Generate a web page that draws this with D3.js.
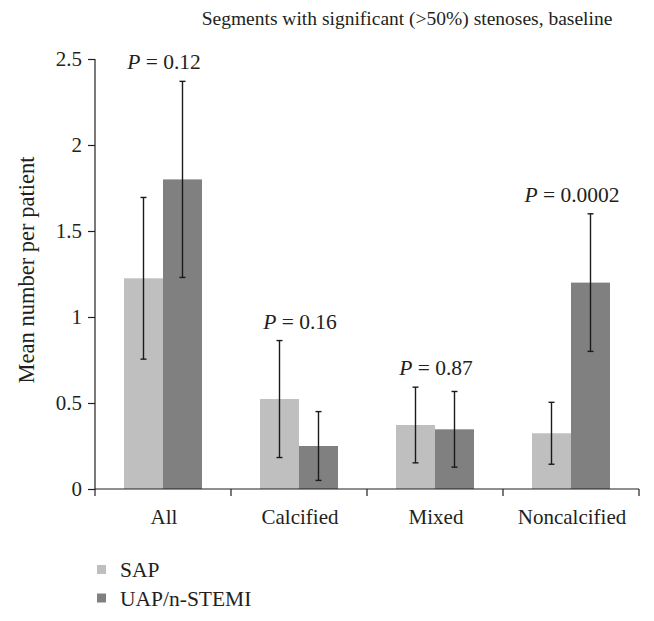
<!DOCTYPE html>
<html><head><meta charset="utf-8">
<script src="https://cdn.jsdelivr.net/npm/d3@7"></script>
<style>body{margin:0;background:#fff}svg{display:block}text{font-family:"Liberation Serif","DejaVu Serif",serif;fill:#231f20}</style>
</head><body>
<script>
const categories = ["All", "Calcified", "Mixed", "Noncalcified"];
const seriesNames = ["SAP", "UAP/n-STEMI"];
const sapMean = [1.225, 0.523, 0.372, 0.324];
const sapErr  = [0.47, 0.34, 0.22, 0.18];
const uapMean = [1.80, 0.25, 0.347, 1.20];
const uapErr  = [0.57, 0.20, 0.22, 0.40];
const pLabels = ["0.12", "0.16", "0.87", "0.0002"];
const yTicks = [0, 0.5, 1, 1.5, 2, 2.5];
const yTickLabels = ["0", "0.5", "1", "1.5", "2", "2.5"];
const title = "Segments with significant (>50%) stenoses, baseline";
const yTitle = "Mean number per patient";

const W = 654, H = 621;
const m = {left: 95, right: 15, top: 59, bottom: 132};
const colors = ["#bfbfbf", "#808080"];

const svg = d3.select("body").append("svg").attr("width", W).attr("height", H);

const x = d3.scaleBand().domain(categories).range([m.left, 639]).paddingInner(0).paddingOuter(0);
const x1 = d3.scaleBand().domain(seriesNames).range([0, 78]);
const y = d3.scaleLinear().domain([0, 2.5]).range([489, 59]);

const data = categories.map((c, i) => ({
  cat: c,
  vals: [
    {s: seriesNames[0], v: sapMean[i], e: sapErr[i]},
    {s: seriesNames[1], v: uapMean[i], e: uapErr[i]}
  ],
  p: pLabels[i]
}));

const groupOff = (x.bandwidth() - 78) / 2;

const g = svg.append("g");
const grp = g.selectAll("g.grp").data(data).join("g")
  .attr("transform", d => `translate(${x(d.cat) + groupOff},0)`);
grp.selectAll("rect").data(d => d.vals).join("rect")
  .attr("x", d => x1(d.s)).attr("width", x1.bandwidth())
  .attr("y", d => y(d.v)).attr("height", d => y(0) - y(d.v))
  .attr("fill", (d, i) => colors[i]);

grp.selectAll("g.err").data(d => d.vals).join("g").each(function(d) {
  const cx = x1(d.s) + x1.bandwidth() / 2;
  const s = d3.select(this);
  s.append("line").attr("x1", cx).attr("x2", cx).attr("y1", y(d.v + d.e)).attr("y2", y(d.v - d.e))
    .attr("stroke", "#1a1a1a").attr("stroke-width", 1.4);
  [d.v + d.e, d.v - d.e].forEach(v => {
    s.append("line").attr("x1", cx - 3).attr("x2", cx + 3).attr("y1", y(v)).attr("y2", y(v))
      .attr("stroke", "#1a1a1a").attr("stroke-width", 1.4);
  });
});

grp.append("text")
  .attr("x", 78 / 2 + 1)
  .attr("y", d => y(d3.max(d.vals, v => v.v + v.e)) - 12)
  .attr("text-anchor", "middle").attr("font-size", 21.5)
  .each(function(d) {
    const t = d3.select(this);
    t.append("tspan").attr("font-style", "italic").text("P");
    t.append("tspan").text(" = " + d.p);
  });

const yAxis = d3.axisLeft(y).tickValues(yTicks).tickFormat((d, i) => yTickLabels[i]).tickSize(7).tickPadding(6);
const ya = svg.append("g").attr("transform", `translate(${m.left},0)`).call(yAxis);
ya.select(".domain").attr("stroke", "#231f20").attr("stroke-width", 1.2).attr("d", `M0,${y(2.5)}V${y(0)}`);
ya.selectAll(".tick line").attr("stroke", "#231f20").attr("stroke-width", 1.2);
ya.selectAll(".tick text").attr("font-size", 21).attr("font-family", '"Liberation Serif", serif').attr("fill", "#231f20");

const xa = svg.append("g").attr("transform", `translate(0,${y(0)})`);
xa.append("line").attr("x1", m.left).attr("x2", 639).attr("y1", 0).attr("y2", 0).attr("stroke", "#231f20").attr("stroke-width", 1.2);
const bounds = categories.map(c => x(c)).concat([x(categories[categories.length - 1]) + x.bandwidth()]);
xa.selectAll("line.tk").data(bounds).join("line").attr("class", "tk")
  .attr("x1", d => d).attr("x2", d => d).attr("y1", 0).attr("y2", 7)
  .attr("stroke", "#231f20").attr("stroke-width", 1.2);
xa.selectAll("text").data(categories).join("text")
  .attr("x", d => x(d) + x.bandwidth() / 2 + 1).attr("y", 35)
  .attr("text-anchor", "middle").attr("font-size", 21).text(d => d);

svg.append("text").attr("x", 407).attr("y", 25).attr("text-anchor", "middle").attr("font-size", 19.5).text(title);

svg.append("text").attr("transform", `translate(34,270) rotate(-90)`).attr("text-anchor", "middle").attr("font-size", 22.5).text(yTitle);

const lg = svg.append("g").attr("transform", "translate(97,565)");
seriesNames.forEach((s, i) => {
  lg.append("rect").attr("x", 0).attr("y", i * 28.5).attr("width", 9).attr("height", 9).attr("fill", colors[i]);
  lg.append("text").attr("x", 23).attr("y", i * 28.5 + 12).attr("font-size", 21.5).text(s);
});
</script>
</body></html>
